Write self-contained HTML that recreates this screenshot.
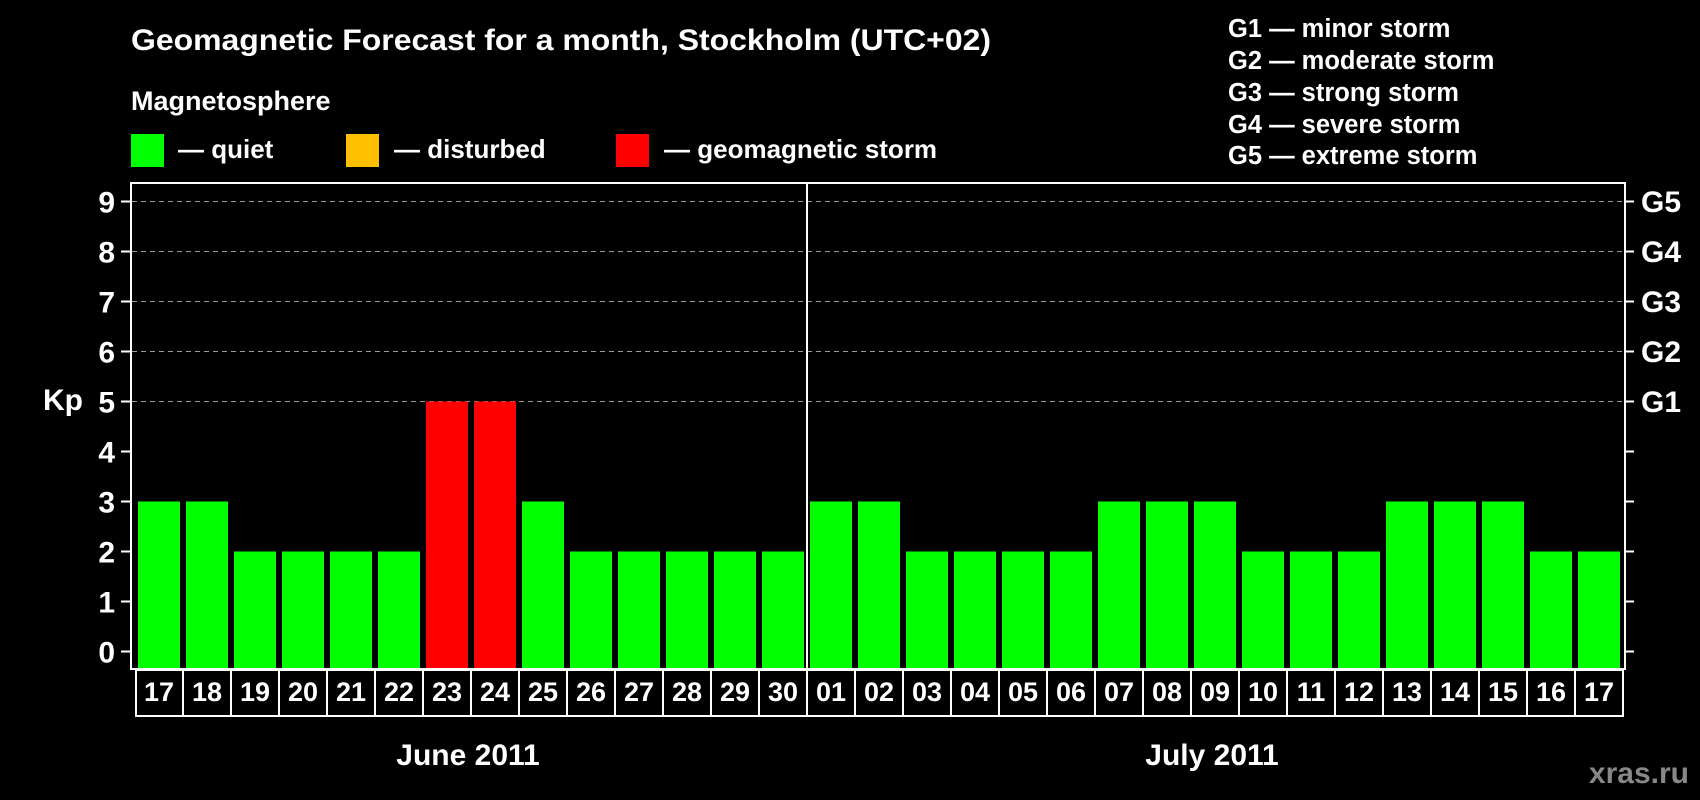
<!DOCTYPE html>
<html><head><meta charset="utf-8"><style>
html,body{margin:0;padding:0;background:#000;}
svg{display:block;font-family:"Liberation Sans",Arial,sans-serif;font-weight:bold;}
</style></head><body>
<svg width="1700" height="800" viewBox="0 0 1700 800" xmlns="http://www.w3.org/2000/svg">
<rect width="1700" height="800" fill="#000"/>
<text x="131" y="50" fill="#fff" font-size="30" textLength="860" lengthAdjust="spacingAndGlyphs">Geomagnetic Forecast for a month, Stockholm (UTC+02)</text>
<text x="131" y="110" fill="#fff" font-size="27">Magnetosphere</text>
<rect x="131" y="134" width="33" height="33" fill="#00ff00"/>
<text x="178" y="158" fill="#fff" font-size="26">— quiet</text>
<rect x="346" y="134" width="33" height="33" fill="#ffc000"/>
<text x="394" y="158" fill="#fff" font-size="26">— disturbed</text>
<rect x="616" y="134" width="33" height="33" fill="#ff0000"/>
<text x="664" y="158" fill="#fff" font-size="26">— geomagnetic storm</text>
<g fill="#fff" font-size="25.5">
<text x="1228" y="37">G1 — minor storm</text>
<text x="1228" y="69">G2 — moderate storm</text>
<text x="1228" y="101">G3 — strong storm</text>
<text x="1228" y="133">G4 — severe storm</text>
<text x="1228" y="164">G5 — extreme storm</text>
</g>
<g stroke="#999" stroke-width="1" stroke-dasharray="5,4">
<line x1="132" y1="201.5" x2="1624" y2="201.5"/>
<line x1="132" y1="251.5" x2="1624" y2="251.5"/>
<line x1="132" y1="301.5" x2="1624" y2="301.5"/>
<line x1="132" y1="351.5" x2="1624" y2="351.5"/>
<line x1="132" y1="401.5" x2="1624" y2="401.5"/>
</g>
<g fill="#00ff00">
<rect x="138" y="501.5" width="42" height="166.5"/>
<rect x="186" y="501.5" width="42" height="166.5"/>
<rect x="234" y="551.5" width="42" height="116.5"/>
<rect x="282" y="551.5" width="42" height="116.5"/>
<rect x="330" y="551.5" width="42" height="116.5"/>
<rect x="378" y="551.5" width="42" height="116.5"/>
<rect x="426" y="401.5" width="42" height="266.5" fill="#ff0000"/>
<rect x="474" y="401.5" width="42" height="266.5" fill="#ff0000"/>
<rect x="522" y="501.5" width="42" height="166.5"/>
<rect x="570" y="551.5" width="42" height="116.5"/>
<rect x="618" y="551.5" width="42" height="116.5"/>
<rect x="666" y="551.5" width="42" height="116.5"/>
<rect x="714" y="551.5" width="42" height="116.5"/>
<rect x="762" y="551.5" width="42" height="116.5"/>
<rect x="810" y="501.5" width="42" height="166.5"/>
<rect x="858" y="501.5" width="42" height="166.5"/>
<rect x="906" y="551.5" width="42" height="116.5"/>
<rect x="954" y="551.5" width="42" height="116.5"/>
<rect x="1002" y="551.5" width="42" height="116.5"/>
<rect x="1050" y="551.5" width="42" height="116.5"/>
<rect x="1098" y="501.5" width="42" height="166.5"/>
<rect x="1146" y="501.5" width="42" height="166.5"/>
<rect x="1194" y="501.5" width="42" height="166.5"/>
<rect x="1242" y="551.5" width="42" height="116.5"/>
<rect x="1290" y="551.5" width="42" height="116.5"/>
<rect x="1338" y="551.5" width="42" height="116.5"/>
<rect x="1386" y="501.5" width="42" height="166.5"/>
<rect x="1434" y="501.5" width="42" height="166.5"/>
<rect x="1482" y="501.5" width="42" height="166.5"/>
<rect x="1530" y="551.5" width="42" height="116.5"/>
<rect x="1578" y="551.5" width="42" height="116.5"/>
</g>
<rect x="131" y="183" width="1494" height="486" fill="none" stroke="#fff" stroke-width="2"/>
<line x1="807" y1="183" x2="807" y2="669" stroke="#fff" stroke-width="2"/>
<g stroke="#fff" stroke-width="2">
<line x1="121" y1="651.5" x2="131" y2="651.5"/><line x1="1625" y1="651.5" x2="1634" y2="651.5"/>
<line x1="121" y1="601.5" x2="131" y2="601.5"/><line x1="1625" y1="601.5" x2="1634" y2="601.5"/>
<line x1="121" y1="551.5" x2="131" y2="551.5"/><line x1="1625" y1="551.5" x2="1634" y2="551.5"/>
<line x1="121" y1="501.5" x2="131" y2="501.5"/><line x1="1625" y1="501.5" x2="1634" y2="501.5"/>
<line x1="121" y1="451.5" x2="131" y2="451.5"/><line x1="1625" y1="451.5" x2="1634" y2="451.5"/>
<line x1="121" y1="401.5" x2="131" y2="401.5"/><line x1="1625" y1="401.5" x2="1634" y2="401.5"/>
<line x1="121" y1="351.5" x2="131" y2="351.5"/><line x1="1625" y1="351.5" x2="1634" y2="351.5"/>
<line x1="121" y1="301.5" x2="131" y2="301.5"/><line x1="1625" y1="301.5" x2="1634" y2="301.5"/>
<line x1="121" y1="251.5" x2="131" y2="251.5"/><line x1="1625" y1="251.5" x2="1634" y2="251.5"/>
<line x1="121" y1="201.5" x2="131" y2="201.5"/><line x1="1625" y1="201.5" x2="1634" y2="201.5"/>
</g>
<g fill="#fff" font-size="30" text-anchor="end">
<text x="115" y="662.5">0</text><text x="115" y="612.5">1</text><text x="115" y="562.5">2</text>
<text x="115" y="512.5">3</text><text x="115" y="462.5">4</text><text x="115" y="412.5">5</text>
<text x="115" y="362.5">6</text><text x="115" y="312.5">7</text><text x="115" y="262.5">8</text>
<text x="115" y="212.5">9</text>
</g>
<text x="43" y="410" fill="#fff" font-size="30">Kp</text>
<g fill="#fff" font-size="30">
<text x="1641" y="212">G5</text>
<text x="1641" y="262">G4</text>
<text x="1641" y="312">G3</text>
<text x="1641" y="362">G2</text>
<text x="1641" y="412">G1</text>
</g>
<g fill="none" stroke="#fff" stroke-width="2">
<rect x="136" y="670" width="1487" height="46"/>
<line x1="183" y1="670" x2="183" y2="716"/><line x1="231" y1="670" x2="231" y2="716"/>
<line x1="279" y1="670" x2="279" y2="716"/><line x1="327" y1="670" x2="327" y2="716"/>
<line x1="375" y1="670" x2="375" y2="716"/><line x1="423" y1="670" x2="423" y2="716"/>
<line x1="471" y1="670" x2="471" y2="716"/><line x1="519" y1="670" x2="519" y2="716"/>
<line x1="567" y1="670" x2="567" y2="716"/><line x1="615" y1="670" x2="615" y2="716"/>
<line x1="663" y1="670" x2="663" y2="716"/><line x1="711" y1="670" x2="711" y2="716"/>
<line x1="759" y1="670" x2="759" y2="716"/><line x1="807" y1="670" x2="807" y2="716"/>
<line x1="855" y1="670" x2="855" y2="716"/><line x1="903" y1="670" x2="903" y2="716"/>
<line x1="951" y1="670" x2="951" y2="716"/><line x1="999" y1="670" x2="999" y2="716"/>
<line x1="1047" y1="670" x2="1047" y2="716"/><line x1="1095" y1="670" x2="1095" y2="716"/>
<line x1="1143" y1="670" x2="1143" y2="716"/><line x1="1191" y1="670" x2="1191" y2="716"/>
<line x1="1239" y1="670" x2="1239" y2="716"/><line x1="1287" y1="670" x2="1287" y2="716"/>
<line x1="1335" y1="670" x2="1335" y2="716"/><line x1="1383" y1="670" x2="1383" y2="716"/>
<line x1="1431" y1="670" x2="1431" y2="716"/><line x1="1479" y1="670" x2="1479" y2="716"/>
<line x1="1527" y1="670" x2="1527" y2="716"/><line x1="1575" y1="670" x2="1575" y2="716"/>
</g>
<g fill="#fff" font-size="27" text-anchor="middle">
<text x="159" y="701">17</text><text x="207" y="701">18</text><text x="255" y="701">19</text>
<text x="303" y="701">20</text><text x="351" y="701">21</text><text x="399" y="701">22</text>
<text x="447" y="701">23</text><text x="495" y="701">24</text><text x="543" y="701">25</text>
<text x="591" y="701">26</text><text x="639" y="701">27</text><text x="687" y="701">28</text>
<text x="735" y="701">29</text><text x="783" y="701">30</text><text x="831" y="701">01</text>
<text x="879" y="701">02</text><text x="927" y="701">03</text><text x="975" y="701">04</text>
<text x="1023" y="701">05</text><text x="1071" y="701">06</text><text x="1119" y="701">07</text>
<text x="1167" y="701">08</text><text x="1215" y="701">09</text><text x="1263" y="701">10</text>
<text x="1311" y="701">11</text><text x="1359" y="701">12</text><text x="1407" y="701">13</text>
<text x="1455" y="701">14</text><text x="1503" y="701">15</text><text x="1551" y="701">16</text>
<text x="1599" y="701">17</text>
</g>
<text x="468" y="765" fill="#fff" font-size="30" text-anchor="middle">June 2011</text>
<text x="1212" y="765" fill="#fff" font-size="30" text-anchor="middle">July 2011</text>
<text x="1689" y="783" fill="#888" font-size="30" text-anchor="end">xras.ru</text>
</svg>
</body></html>
